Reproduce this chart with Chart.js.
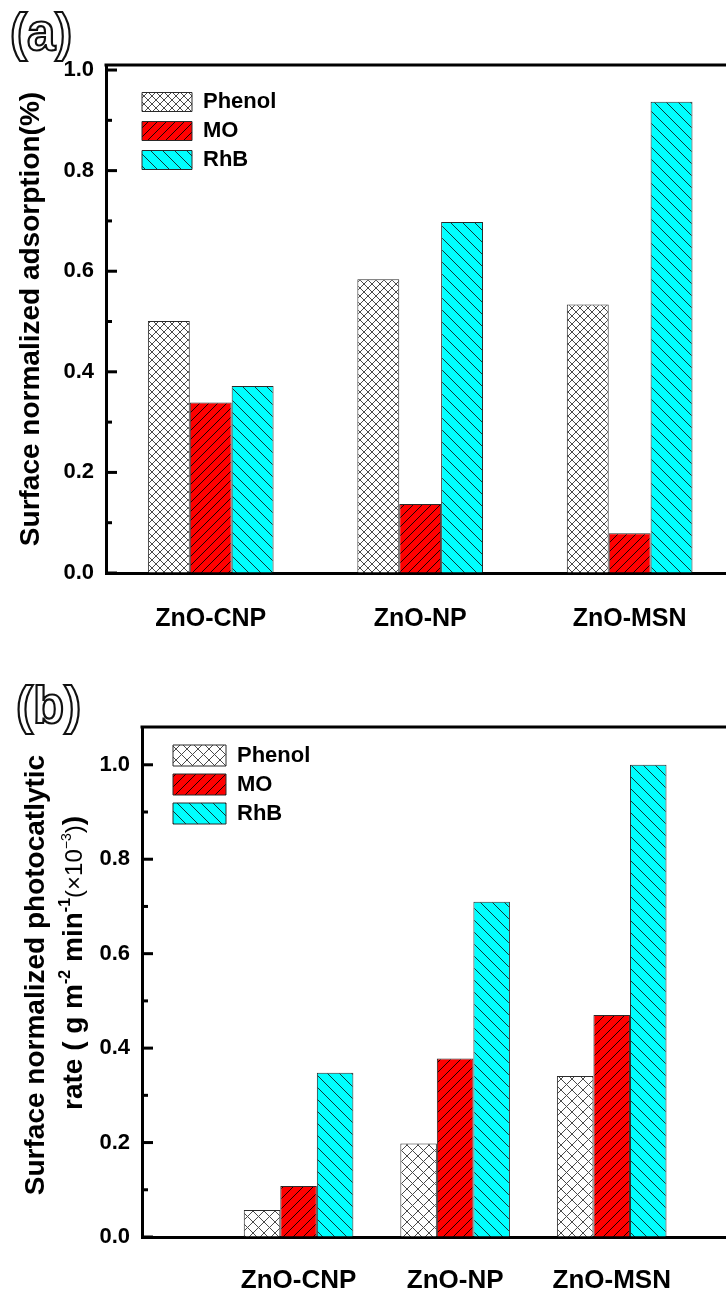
<!DOCTYPE html>
<html>
<head>
<meta charset="utf-8">
<title>ZnO surface normalized adsorption / photocatalytic rate</title>
<script src="https://cdn.jsdelivr.net/npm/chart.js@4.4.1/dist/chart.umd.min.js"></script>
<style>
  html, body { margin: 0; padding: 0; background: #fff; overflow: hidden; }
  canvas { display: block; }
</style>
</head>
<body>
<canvas id="chartAds" width="726" height="650" style="width:726px;height:650px"></canvas>
<canvas id="chartRate" width="726" height="645" style="width:726px;height:645px"></canvas>
<script>
// values
const categories = ['ZnO-CNP', 'ZnO-NP', 'ZnO-MSN'];
const seriesNames = ['Phenol', 'MO', 'RhB'];

// (a) surface normalized adsorption (%)
const adsPhenol = [0.501, 0.584, 0.534];
const adsMO = [0.339, 0.137, 0.079];
const adsRhB = [0.372, 0.698, 0.937];

// (b) surface normalized photocatalytic rate
const ratePhenol = [0.057, 0.198, 0.341];
const rateMO = [0.108, 0.378, 0.470];
const rateRhB = [0.348, 0.710, 1.000];

const FONT = '"Liberation Sans", Arial, Helvetica, sans-serif';
Chart.defaults.font.family = FONT;
Chart.defaults.color = '#000';

// hatch fill: '/' , '\' or both
function hatch(ctx, bg, line, size, dirs) {
  const c = document.createElement('canvas');
  c.width = size; c.height = size;
  const g = c.getContext('2d');
  g.fillStyle = bg;
  g.fillRect(0, 0, size, size);
  g.strokeStyle = line;
  g.lineWidth = 1;
  g.beginPath();
  for (let k = -1; k <= 1; k++) {
    if (dirs.indexOf('/') >= 0) { g.moveTo(k * size, size); g.lineTo(k * size + size, 0); }
    if (dirs.indexOf('\\') >= 0) { g.moveTo(k * size, 0); g.lineTo(k * size + size, size); }
  }
  g.stroke();
  return ctx.createPattern(c, 'repeat');
}

function makeDatasets(values, fills) {
  return seriesNames.map((name, s) => ({
    label: name,
    data: values[s].map((v, i) => ({ x: i, y: v })),
    backgroundColor: fills[s],
    borderColor: '#2a2a2a',
    borderWidth: 1
  }));
}

// frame on top, inward ticks on the y axis, hollow panel letter, legend placement
const frame = {
  id: 'frame',
  afterLayout(chart, args, opts) {
    const lg = chart.legend;
    if (lg) {
      const w = lg.width, h = lg.height;
      lg.left = opts.legendLeft; lg.right = lg.left + w;
      lg.top = opts.legendTop; lg.bottom = lg.top + h;
    }
  },
  afterDraw(chart, args, opts) {
    const { ctx, chartArea: a } = chart;
    const y = chart.scales.y;
    ctx.save();
    ctx.strokeStyle = '#000';
    ctx.lineWidth = 3;
    ctx.beginPath();
    ctx.moveTo(a.left - 1.5, a.top);
    ctx.lineTo(chart.width, a.top);
    ctx.stroke();

    const vals = y.ticks.map(t => t.value);
    vals.forEach((v, i) => {
      const py = y.getPixelForValue(v);
      ctx.beginPath(); ctx.moveTo(a.left, py); ctx.lineTo(a.left + 11, py); ctx.stroke();
      if (i > 0) {
        const pm = y.getPixelForValue((v + vals[i - 1]) / 2);
        ctx.beginPath(); ctx.moveTo(a.left, pm); ctx.lineTo(a.left + 6, pm); ctx.stroke();
      }
    });

    ctx.font = 'bold 51px ' + FONT;
    ctx.textBaseline = 'alphabetic';
    ctx.textAlign = 'left';
    ctx.fillStyle = '#fff';
    ctx.lineWidth = 2.2;
    ctx.strokeStyle = '#111';
    ctx.fillText(opts.letter, opts.letterX, opts.letterY);
    ctx.strokeText(opts.letter, opts.letterX, opts.letterY);
    ctx.restore();
  }
};

// two-line y title of panel (b), with superscripts
const rateTitle = {
  id: 'rateTitle',
  afterDraw(chart) {
    const ctx = chart.ctx;
    ctx.save();
    ctx.fillStyle = '#000';
    ctx.textBaseline = 'alphabetic';
    ctx.textAlign = 'center';
    ctx.translate(44, 325);
    ctx.rotate(-Math.PI / 2);
    ctx.font = 'bold 28px ' + FONT;
    ctx.fillText('Surface normalized photocatlytic', 0, 0);
    ctx.restore();

    const parts = [
      ['rate ( g m', 'bold 28px', 0],
      ['-2', 'bold 16px', -12],
      [' min', 'bold 28px', 0],
      ['-1', 'bold 16px', -12],
      ['(\u00d710', '24px', 0],
      ['\u22123', '14px', -11],
      [')', '24px', 0],
      [')', 'bold 28px', 0]
    ];
    ctx.save();
    ctx.fillStyle = '#000';
    ctx.textBaseline = 'alphabetic';
    ctx.textAlign = 'left';
    ctx.translate(82, 313);
    ctx.rotate(-Math.PI / 2);
    let total = 0;
    parts.forEach(p => { ctx.font = p[1] + ' ' + FONT; total += ctx.measureText(p[0]).width; });
    let x = -total / 2;
    parts.forEach(p => {
      ctx.font = p[1] + ' ' + FONT;
      ctx.fillText(p[0], x, p[2]);
      x += ctx.measureText(p[0]).width;
    });
    ctx.restore();
  }
};

function makeConfig(ctx, opt) {
  return {
    type: 'bar',
    data: { datasets: makeDatasets(opt.values, opt.fills) },
    plugins: opt.extraPlugins,
    options: {
      responsive: false,
      animation: false,
      layout: { padding: { top: opt.top, left: 0, right: 0, bottom: 0 } },
      datasets: { bar: { categoryPercentage: opt.catPct, barPercentage: 1 } },
      scales: {
        x: {
          type: 'linear',
          offset: false,
          min: opt.xMin,
          max: opt.xMax,
          afterFit: s => { s.height = opt.xHeight; },
          grid: { drawOnChartArea: false, drawTicks: false, offset: false },
          border: { display: true, color: '#000', width: 3 },
          ticks: {
            stepSize: 1,
            includeBounds: false,
            padding: opt.xPad,
            autoSkip: false,
            maxRotation: 0,
            font: { size: opt.xFont, weight: 'bold' },
            callback: v => categories[v] || ''
          }
        },
        y: {
          min: 0,
          max: opt.yMax,
          afterFit: s => { s.width = opt.yWidth; },
          grid: { drawOnChartArea: false, drawTicks: false },
          border: { display: true, color: '#000', width: 3 },
          ticks: {
            stepSize: 0.2,
            includeBounds: false,
            padding: 12,
            font: { size: 22, weight: 'bold' },
            callback: v => v.toFixed(1)
          },
          title: opt.yTitle
        }
      },
      plugins: {
        tooltip: { enabled: false },
        legend: {
          position: 'chartArea',
          align: 'start',
          labels: {
            boxWidth: opt.boxW,
            boxHeight: opt.boxH,
            padding: 7,
            color: '#000',
            font: { size: 22, weight: 'bold' }
          }
        },
        frame: opt.frame
      }
    }
  };
}

// (a)
const ctxA = document.getElementById('chartAds').getContext('2d');
const fillsA = [
  hatch(ctxA, '#ffffff', '#4a4a4a', 8, '/\\'),
  hatch(ctxA, '#ff0000', '#1a0000', 9, '/'),
  hatch(ctxA, '#00ffff', '#103838', 12, '\\')
];
new Chart(ctxA, makeConfig(ctxA, {
  values: [adsPhenol, adsMO, adsRhB],
  fills: fillsA,
  top: 65, xHeight: 77, yWidth: 106,
  xMin: -0.5, xMax: 2.46, catPct: 0.6,
  xPad: 31, xFont: 25,
  yMax: 1.01,
  boxW: 50, boxH: 19,
  yTitle: {
    display: true,
    text: 'Surface normalized adsorption(%)',
    font: { size: 28, weight: 'bold' },
    padding: { top: 14, bottom: 0 }
  },
  extraPlugins: [frame],
  frame: { letter: '(a)', letterX: 10, letterY: 50, legendLeft: 135, legendTop: 84 }
}));

// (b)
const ctxB = document.getElementById('chartRate').getContext('2d');
const fillsB = [
  hatch(ctxB, '#ffffff', '#4a4a4a', 11, '/\\'),
  hatch(ctxB, '#ff0000', '#1a0000', 10, '/'),
  hatch(ctxB, '#00ffff', '#103838', 12, '\\')
];
new Chart(ctxB, makeConfig(ctxB, {
  values: [ratePhenol, rateMO, rateRhB],
  fills: fillsB,
  top: 77, xHeight: 58, yWidth: 142,
  xMin: -1, xMax: 2.73, catPct: 0.70,
  xPad: 28, xFont: 26,
  yMax: 1.08,
  boxW: 53, boxH: 21,
  yTitle: { display: false },
  extraPlugins: [frame, rateTitle],
  frame: { letter: '(b)', letterX: 16, letterY: 73, legendLeft: 166, legendTop: 87.5 }
}));
</script>
</body>
</html>
